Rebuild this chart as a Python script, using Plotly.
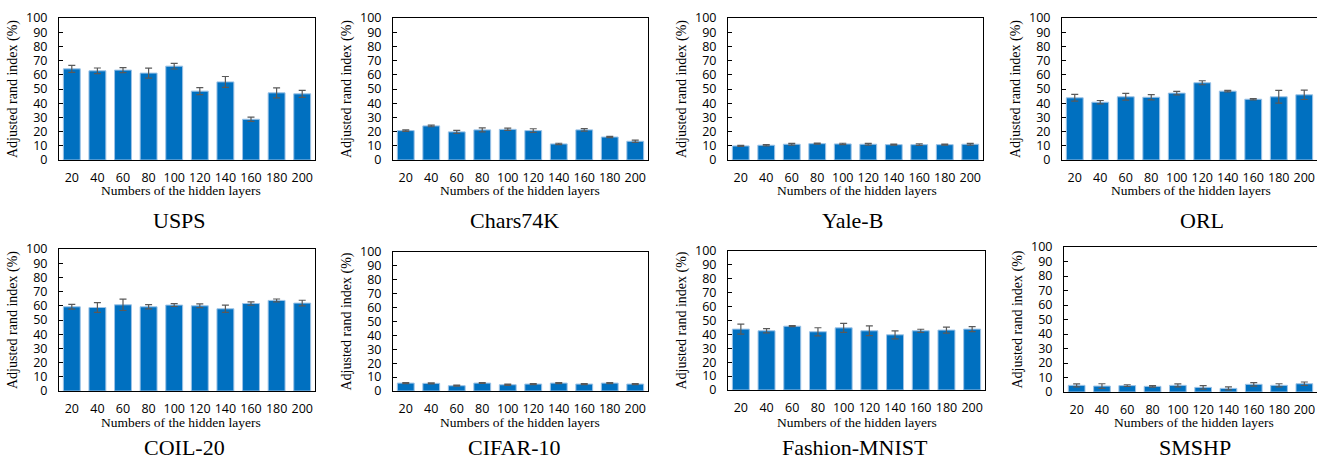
import plotly.graph_objects as go

W, H = 1317, 459

layers = ["20", "40", "60", "80", "100", "120", "140", "160", "180", "200"]

names = ["USPS", "Chars74K", "Yale-B", "ORL", "COIL-20", "CIFAR-10", "Fashion-MNIST", "SMSHP"]

usps = [64.2, 62.8, 63.3, 61.2, 66.1, 48.5, 55.0, 28.7, 47.3, 46.6]
usps_err = [2.5, 2.0, 1.7, 3.5, 2.0, 2.5, 3.8, 1.5, 3.5, 2.5]
chars = [20.7, 24.0, 19.8, 21.2, 21.6, 20.7, 11.3, 21.2, 16.2, 13.2]
chars_err = [0.5, 0.6, 1.0, 1.4, 0.8, 1.3, 0.5, 0.9, 0.4, 0.8]
yale = [9.9, 10.4, 11.1, 11.5, 11.3, 11.1, 10.8, 10.8, 10.8, 11.1]
yale_err = [0.4, 0.5, 0.6, 0.4, 0.5, 0.6, 0.4, 0.6, 0.4, 0.6]
orl = [43.8, 40.7, 44.5, 44.2, 47.1, 54.4, 48.5, 42.8, 44.5, 45.9]
orl_err = [2.4, 1.2, 2.4, 1.9, 1.2, 1.4, 0.5, 0.5, 4.5, 3.3]
coil = [59.3, 58.8, 60.7, 59.3, 60.5, 60.0, 57.9, 61.6, 63.8, 61.9]
coil_err = [1.7, 3.5, 4.0, 1.5, 1.0, 1.3, 2.6, 1.2, 1.0, 2.0]
cifar = [5.7, 5.5, 3.8, 5.7, 4.5, 5.0, 5.7, 5.0, 5.7, 5.0]
cifar_err = [0.4, 0.4, 0.4, 0.3, 0.4, 0.4, 0.4, 0.4, 0.4, 0.4]
fmnist = [43.8, 42.6, 45.9, 41.9, 44.7, 42.6, 39.7, 42.6, 43.1, 43.8]
fmnist_err = [3.6, 1.5, 0.4, 2.9, 3.3, 3.5, 2.9, 1.1, 2.2, 1.8]
smshp = [4.6, 4.1, 4.4, 3.9, 4.6, 3.2, 2.5, 5.3, 4.6, 5.7]
smshp_err = [1.0, 1.6, 0.6, 0.5, 1.0, 1.2, 1.1, 1.2, 1.1, 1.2]

values = [usps, chars, yale, orl, coil, cifar, fmnist, smshp]
errors = [usps_err, chars_err, yale_err, orl_err, coil_err, cifar_err, fmnist_err, smshp_err]

# plot boxes in pixels: left, right, top, bottom
boxes = [
    (59, 315, 18, 160), (393, 648, 18, 160), (728, 983, 18, 160), (1062, 1318, 18, 160),
    (59, 315, 249, 391), (393, 648, 252, 391), (728, 985, 251, 390), (1064, 1320, 247, 392),
]
title_x = [179, 514, 852, 1202, 185, 514, 855, 1195]
title_y = [220, 220, 220, 220, 447, 447, 447, 447]
xt_x = [181, 520, 857, 1191, 181, 520, 857, 1194]
xt_y = [191, 191, 191, 191, 422, 422, 422, 422]

serif = "Liberation Serif, Times New Roman, serif"
sans = "Open Sans, sans-serif"

fig = go.Figure()
annotations = []
for i in range(8):
    ax = "" if i == 0 else str(i + 1)
    fig.add_trace(go.Bar(
        x=layers, y=values[i],
        xaxis="x" + ax, yaxis="y" + ax,
        marker=dict(color="#0070C0", line=dict(color="#9DC3E6", width=1)),
        error_y=dict(type="data", array=errors[i], visible=True,
                     color="#595959", thickness=1.2, width=3.5),
        showlegend=False,
    ))
    l, r, t, b = boxes[i]
    fig.layout["xaxis" + ax] = dict(
        domain=[l / W, min(r / W, 1.0)], anchor="y" + ax, automargin=False,
        type="category", showline=True, mirror=True, linecolor="black", linewidth=1,
        ticks="", showgrid=False, tickfont=dict(family=sans, size=12.5, color="black"),
        ticklabelstandoff=6, fixedrange=True,
    )
    fig.layout["yaxis" + ax] = dict(
        domain=[1 - b / H, 1 - t / H], anchor="x" + ax, automargin=False,
        range=[0, 100], dtick=10, tick0=0, showline=True, mirror=True,
        linecolor="black", linewidth=1, ticks="inside", ticklen=4, tickcolor="black",
        showgrid=False, zeroline=False,
        tickfont=dict(family=sans, size=12.5, color="black"),
        ticklabelstandoff=8,
        title=dict(text="Adjusted rand index (%)", font=dict(family=serif, size=14, color="black"),
                   standoff=5),
        fixedrange=True,
    )
    annotations.append(dict(
        text=names[i], x=title_x[i] / W, y=1 - title_y[i] / H, xref="paper", yref="paper",
        showarrow=False, xanchor="center", yanchor="middle",
        font=dict(family=serif, size=22, color="black"),
    ))
    annotations.append(dict(
        text="Numbers of the hidden layers", x=xt_x[i] / W, y=1 - xt_y[i] / H,
        xref="paper", yref="paper", showarrow=False, xanchor="center", yanchor="middle",
        font=dict(family=serif, size=13.5, color="black"),
    ))

fig.update_layout(
    width=W, height=H, margin=dict(l=0, r=0, t=0, b=0, autoexpand=False),
    paper_bgcolor="white", plot_bgcolor="white",
    bargap=0.34, annotations=annotations,
)

fig.write_html("out.html")
